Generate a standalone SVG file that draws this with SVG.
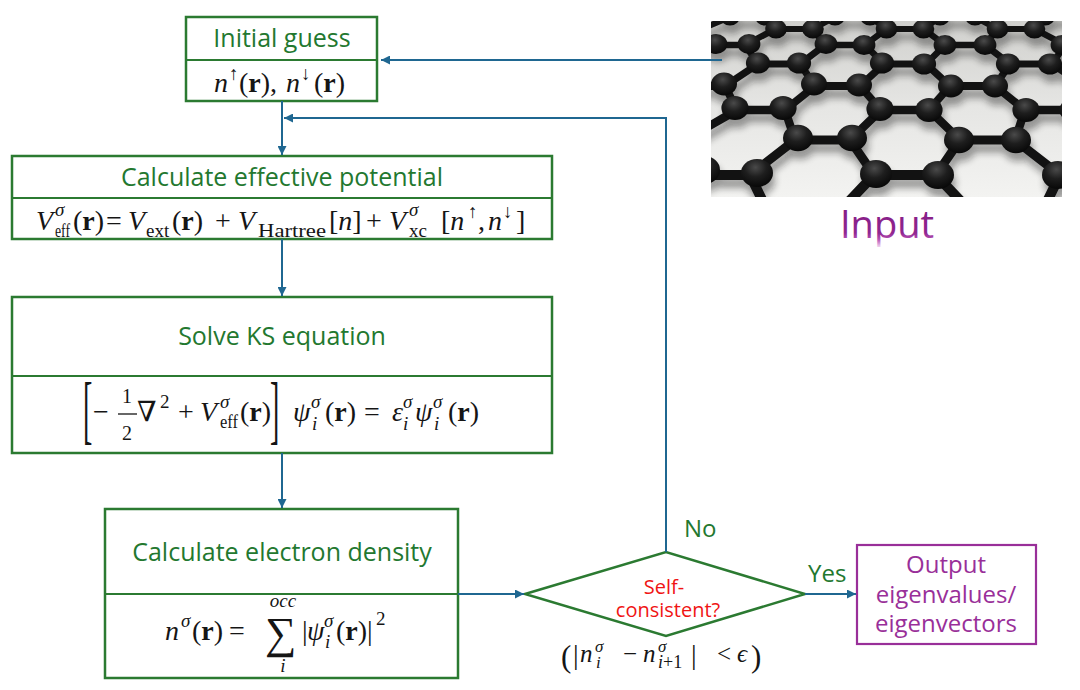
<svg xmlns="http://www.w3.org/2000/svg" width="1080" height="690" viewBox="0 0 1080 690">
<defs>
<style>
.box{fill:#fff;stroke:#2b7a31;stroke-width:2.5}
.sep{stroke:#2b7a31;stroke-width:2}
.title{font-family:"Open Sans","Noto Sans",sans-serif;font-size:25px;fill:#23782f;text-anchor:middle}
.lbl{font-family:"Open Sans","Noto Sans",sans-serif;font-size:24px;fill:#23782f}
.red{font-family:"Open Sans","Noto Sans",sans-serif;font-size:20px;fill:#f01414;text-anchor:middle}
.out{font-family:"Open Sans","Noto Sans",sans-serif;font-size:24px;fill:#992f99;text-anchor:middle}
.m{font-family:"Liberation Serif","DejaVu Serif",serif;font-size:28px;fill:#151515}
.i{font-style:italic}
.b{font-weight:bold}
.s{font-size:19px}
.conn{stroke:#1f6791;stroke-width:2;fill:none}
.bond{stroke:#121212;stroke-linecap:round;fill:none}
</style>
<marker id="arr" viewBox="0 0 10 10" refX="10" refY="5" markerWidth="9" markerHeight="9" markerUnits="userSpaceOnUse" orient="auto"><path d="M0,0L10,5L0,10z" fill="#1f6791"/></marker>
<linearGradient id="bg" x1="0" y1="0" x2="0" y2="1"><stop offset="0" stop-color="#d0d0cd"/><stop offset="0.5" stop-color="#e6e6e4"/><stop offset="1" stop-color="#f3f3f1"/></linearGradient>
<radialGradient id="ball" cx="0.45" cy="0.3" r="0.75"><stop offset="0" stop-color="#4a4a4a"/><stop offset="0.45" stop-color="#1e1e1e"/><stop offset="1" stop-color="#050505"/></radialGradient>
<linearGradient id="ig" gradientUnits="userSpaceOnUse" x1="0" y1="212" x2="0" y2="250"><stop offset="0" stop-color="#861e86"/><stop offset="0.55" stop-color="#902690"/><stop offset="0.72" stop-color="#b552b5"/><stop offset="0.88" stop-color="#e6bce6"/><stop offset="1" stop-color="#ffffff"/></linearGradient>
<clipPath id="imgclip"><rect x="711" y="21" width="351" height="176"/></clipPath>
<filter id="sh" x="-10%" y="-10%" width="120%" height="120%"><feGaussianBlur stdDeviation="3.5"/></filter>
</defs>
<rect width="1080" height="690" fill="#fff"/>

<g id="input">
<rect x="711" y="21" width="351" height="176" fill="url(#bg)"/>
<g clip-path="url(#imgclip)">
<use href="#lat" transform="translate(2,8)" filter="url(#sh)" opacity="0.4"/>
<g id="lat">
<path class="bond" stroke-width="6" d="M701.5 29L730 17M775.5 29L765 17M812.5 29L835 17M886.5 29L870 17M923.5 29L940 17M997.5 29L975 17M1034.5 29L1045 17M775.5 29H812.5M886.5 29H923.5M997.5 29H1034.5M730 17H765M835 17H870M940 17H975M1045 17H1080"/>
<path class="bond" stroke-width="6.3" d="M701.5 29L705 45M775.5 29L745 45M812.5 29L825 45M886.5 29L865 45M923.5 29L945 45M997.5 29L985 45M1034.5 29L1065 45"/>
<path class="bond" stroke-width="6.6" d="M705 45H745M825 45H865M945 45H985M1065 45H1105M705 45L674 64M745 45L758 64M825 45L800 64M865 45L884 64M945 45L926 64M985 45L1010 64M1065 45L1052 64"/>
<path class="bond" stroke-width="7.2" d="M758 64H800M884 64H926M1010 64H1052M758 64L725 86M800 64L815 86M884 64L860 86M926 64L950 86M1010 64L995 86M1052 64L1085 86"/>
<path class="bond" stroke-width="7.8" d="M680 86H725M815 86H860M950 86H995M1085 86H1130M725 86L737 110M815 86L785 110M860 86L881 110M950 86L929 110M995 86L1025 110M1085 86L1073 110"/>
<path class="bond" stroke-width="8.4" d="M737 110H785M881 110H929M1025 110H1073M737 110L685 140M785 110L795 140M881 110L850 140M929 110L960 140M1025 110L1015 140M1073 110L1125 140"/>
<path class="bond" stroke-width="9" d="M795 140H850M960 140H1015M795 140L750 175M850 140L874 175M960 140L936 175M1015 140L1060 175M685 140L700 175M685 140H630"/>
<path class="bond" stroke-width="10" d="M700 175H750M874 175H936M1060 175H1122M750 175L769 214M874 175L837 214M936 175L973 214M1060 175L1041 214"/>
<g fill="url(#ball)">
<ellipse cx="730" cy="17" rx="9.8" ry="8.6"/><ellipse cx="765" cy="17" rx="9.8" ry="8.6"/><ellipse cx="835" cy="17" rx="9.8" ry="8.6"/><ellipse cx="870" cy="17" rx="9.8" ry="8.6"/><ellipse cx="940" cy="17" rx="9.8" ry="8.6"/><ellipse cx="975" cy="17" rx="9.8" ry="8.6"/><ellipse cx="1045" cy="17" rx="9.8" ry="8.6"/>
<ellipse cx="776" cy="29" rx="10.8" ry="9.5"/><ellipse cx="813" cy="29" rx="10.8" ry="9.5"/><ellipse cx="886.5" cy="29" rx="10.8" ry="9.5"/><ellipse cx="923.5" cy="29" rx="10.8" ry="9.5"/><ellipse cx="997.5" cy="29" rx="10.8" ry="9.5"/><ellipse cx="1034.5" cy="29" rx="10.8" ry="9.5"/>
<ellipse cx="716" cy="44" rx="11.4" ry="10"/><ellipse cx="749" cy="44" rx="11.4" ry="10"/><ellipse cx="826" cy="44" rx="11.4" ry="10"/><ellipse cx="864" cy="45" rx="11.4" ry="10"/><ellipse cx="945" cy="45" rx="11.4" ry="10"/><ellipse cx="985" cy="45" rx="11.4" ry="10"/><ellipse cx="1062" cy="45" rx="11.4" ry="10"/>
<ellipse cx="758" cy="63" rx="12.1" ry="10.6"/><ellipse cx="799" cy="63" rx="12.1" ry="10.6"/><ellipse cx="882" cy="63" rx="12.1" ry="10.6"/><ellipse cx="924" cy="64" rx="12.1" ry="10.6"/><ellipse cx="1008" cy="64" rx="12.1" ry="10.6"/><ellipse cx="1050" cy="64" rx="12.1" ry="10.6"/>
<ellipse cx="724" cy="84" rx="13" ry="11.4"/><ellipse cx="814" cy="84" rx="13" ry="11.4"/><ellipse cx="859" cy="85" rx="13" ry="11.4"/><ellipse cx="951" cy="86" rx="13" ry="11.4"/><ellipse cx="995" cy="86" rx="13" ry="11.4"/>
<ellipse cx="735" cy="108" rx="13.6" ry="12"/><ellipse cx="783" cy="108" rx="13.6" ry="12"/><ellipse cx="880" cy="109" rx="13.6" ry="12"/><ellipse cx="929" cy="110" rx="13.6" ry="12"/><ellipse cx="1026" cy="110" rx="13.6" ry="12"/><ellipse cx="1073" cy="110" rx="13.6" ry="12"/>
<ellipse cx="798" cy="138" rx="15" ry="13.2"/><ellipse cx="852" cy="138" rx="15" ry="13.2"/><ellipse cx="959" cy="140" rx="15" ry="13.2"/><ellipse cx="1016" cy="140" rx="15" ry="13.2"/>
<ellipse cx="704" cy="170" rx="16" ry="14"/><ellipse cx="757" cy="173" rx="16" ry="14"/><ellipse cx="876" cy="174" rx="16" ry="14"/><ellipse cx="938" cy="175" rx="16" ry="14"/><ellipse cx="1058" cy="175" rx="16" ry="14"/>
</g>
</g>
</g>
<text x="887" y="238" font-family="'Open Sans','Noto Sans',sans-serif" font-size="38" fill="url(#ig)" text-anchor="middle">Input</text>
</g>

<g id="initial-guess">
<rect class="box" x="186" y="17" width="191" height="84"/>
<line class="sep" x1="186" y1="60" x2="377" y2="60"/>
<text class="title" x="282" y="47">Initial guess</text>
<text class="m" y="92"><tspan x="214" class="i">n</tspan><tspan x="229" y="80" class="s">↑</tspan><tspan x="239" y="92">(<tspan class="b">r</tspan>),</tspan><tspan x="286" class="i">n</tspan><tspan x="301" y="80" class="s">↓</tspan><tspan x="314" y="92">(<tspan class="b">r</tspan>)</tspan></text>
</g>

<g id="effective-potential">
<rect class="box" x="12" y="156" width="540" height="83"/>
<line class="sep" x1="12" y1="198" x2="552" y2="198"/>
<text class="title" x="282" y="186">Calculate effective potential</text>
<text class="m" y="230"><tspan x="36" class="i">V</tspan><tspan x="55" y="216" class="i s">σ</tspan><tspan x="55" y="237" class="s" textLength="15" lengthAdjust="spacingAndGlyphs">eff</tspan><tspan x="73" y="230">(<tspan class="b">r</tspan>)</tspan><tspan x="106">=</tspan><tspan x="128" class="i">V</tspan><tspan x="146" y="237" class="s">ext</tspan><tspan x="172" y="230">(<tspan class="b">r</tspan>)</tspan><tspan x="215">+</tspan><tspan x="238" class="i">V</tspan><tspan x="258" y="237" class="s" textLength="68" lengthAdjust="spacingAndGlyphs">Hartree</tspan><tspan x="329" y="230">[<tspan class="i">n</tspan>]</tspan><tspan x="366">+</tspan><tspan x="389" class="i">V</tspan><tspan x="409" y="216" class="i s">σ</tspan><tspan x="409" y="237" class="s">xc</tspan><tspan x="441" y="230">[<tspan class="i">n</tspan></tspan><tspan x="468" y="218" class="s">↑</tspan><tspan x="478" y="230">,</tspan><tspan x="488" class="i">n</tspan><tspan x="503" y="218" class="s">↓</tspan><tspan x="516" y="230">]</tspan></text>
</g>

<g id="solve-ks">
<rect class="box" x="12" y="297" width="540" height="156"/>
<line class="sep" x1="12" y1="376" x2="552" y2="376"/>
<text class="title" x="282" y="345">Solve KS equation</text>
<text class="m" transform="translate(83,435) scale(1,2.75)">[</text>
<text class="m" transform="translate(270,435) scale(1,2.75)">]</text>
<text class="m" text-anchor="middle" style="font-size:20px"><tspan x="127" y="403">1</tspan><tspan x="127" y="440">2</tspan></text>
<line x1="118" y1="414" x2="137" y2="414" stroke="#151515" stroke-width="1.3"/>
<text class="m" y="421"><tspan x="93">−</tspan><tspan x="137">∇</tspan><tspan x="160" y="408" class="s">2</tspan><tspan x="178" y="421">+</tspan><tspan x="200" class="i">V</tspan><tspan x="220" y="408" class="i s">σ</tspan><tspan x="220" y="428" class="s" textLength="18" lengthAdjust="spacingAndGlyphs">eff</tspan><tspan x="240" y="421">(<tspan class="b">r</tspan>)</tspan><tspan x="293" class="i">ψ</tspan><tspan x="311" y="408" class="i s">σ</tspan><tspan x="312" y="430" class="i s">i</tspan><tspan x="325" y="421">(<tspan class="b">r</tspan>)</tspan><tspan x="364">=</tspan><tspan x="392" class="i">ε</tspan><tspan x="403" y="408" class="i s">σ</tspan><tspan x="403" y="430" class="i s">i</tspan><tspan x="415" y="421" class="i">ψ</tspan><tspan x="433" y="408" class="i s">σ</tspan><tspan x="434" y="430" class="i s">i</tspan><tspan x="448" y="421">(<tspan class="b">r</tspan>)</tspan></text>
</g>

<g id="electron-density">
<rect class="box" x="105" y="509" width="353" height="169"/>
<line class="sep" x1="105" y1="594" x2="458" y2="594"/>
<text class="title" x="282" y="561">Calculate electron density</text>
<text class="m" y="640"><tspan x="165" class="i">n</tspan><tspan x="181" y="627" class="i s">σ</tspan><tspan x="192" y="640">(<tspan class="b">r</tspan>)</tspan><tspan x="229">=</tspan><tspan x="302">|</tspan><tspan x="307" class="i">ψ</tspan><tspan x="324" y="627" class="i s">σ</tspan><tspan x="325" y="648" class="i s">i</tspan><tspan x="336" y="640">(<tspan class="b">r</tspan>)|</tspan><tspan x="376" y="625" class="s">2</tspan></text>
<text class="m" x="265" y="648" style="font-size:44px">∑</text>
<text class="m i" x="283" y="607" text-anchor="middle" style="font-size:19px">occ</text>
<text class="m i" x="283" y="672" text-anchor="middle" style="font-size:19px">i</text>
</g>

<g id="self-consistent">
<polygon points="525,594 666,552 805,594 666,636" fill="#fff" stroke="#2b7a31" stroke-width="2.5"/>
<text class="red" x="664" y="594">Self-</text>
<text class="red" x="668" y="617">consistent?</text>
<text class="m" y="662" style="font-size:25px"><tspan x="561" y="667" style="font-size:31px">(</tspan><tspan x="573" y="664" style="font-size:28px">|</tspan><tspan x="580" y="662" class="i">n</tspan><tspan x="595" y="652" class="i" style="font-size:17px">σ</tspan><tspan x="596" y="668" class="i" style="font-size:17px">i</tspan><tspan x="623" y="662">−</tspan><tspan x="643" class="i">n</tspan><tspan x="658" y="652" class="i" style="font-size:17px">σ</tspan><tspan x="658" y="668" style="font-size:18px"><tspan class="i">i</tspan>+1</tspan><tspan x="691" y="664" style="font-size:28px">|</tspan><tspan x="717" y="662">&lt;</tspan><tspan x="737" class="i">ϵ</tspan><tspan x="751" y="667" style="font-size:31px">)</tspan></text>
</g>

<g id="output">
<rect x="857" y="545" width="179" height="99" fill="#fff" stroke="#992f99" stroke-width="2.2"/>
<text class="out" x="946" y="573">Output</text>
<text class="out" x="946" y="603">eigenvalues/</text>
<text class="out" x="946" y="632">eigenvectors</text>
</g>

<g id="connectors">
<path class="conn" d="M722 60H381" marker-end="url(#arr)"/>
<path class="conn" d="M282 101V155" marker-end="url(#arr)"/>
<path class="conn" d="M666 552V118H284" marker-end="url(#arr)"/>
<path class="conn" d="M282 239V296" marker-end="url(#arr)"/>
<path class="conn" d="M282 453V508" marker-end="url(#arr)"/>
<path class="conn" d="M458 594H524" marker-end="url(#arr)"/>
<path class="conn" d="M805 594H856" marker-end="url(#arr)"/>
<text class="lbl" x="684" y="537">No</text>
<text class="lbl" x="808" y="582">Yes</text>
</g>
</svg>
